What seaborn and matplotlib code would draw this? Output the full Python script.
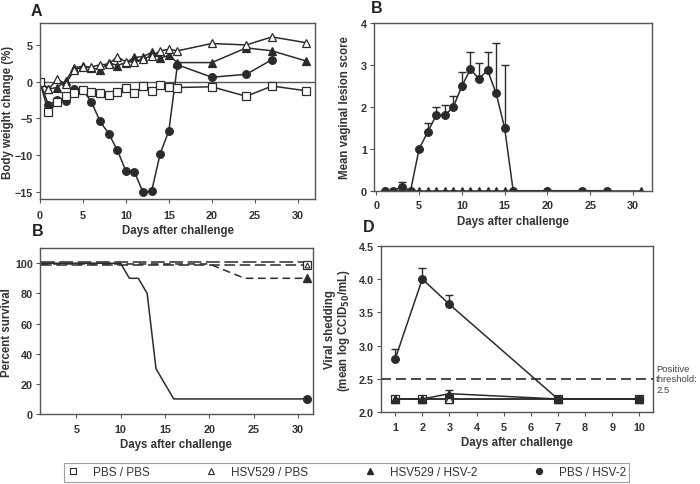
import numpy as np
import pandas as pd
import matplotlib
matplotlib.use('Agg')
import matplotlib.pyplot as plt
from matplotlib.lines import Line2D
import seaborn as sns

groups = ['PBS / PBS', 'HSV529 / PBS', 'HSV529 / HSV-2', 'PBS / HSV-2']

# panel A - body weight change (%)
days_a = [0, 1, 2, 3, 4, 5, 6, 7, 8, 9, 10, 11, 12, 13, 14, 15, 16, 20, 24, 27, 31]
wt_pbs_pbs = [0, -4.2, -2.8, -1.9, -1.5, -1.2, -1.4, -1.5, -1.8, -1.35, -0.8, -1.6,
              -0.6, -1.3, -0.45, -0.7, -0.8, -0.7, -2.0, -0.6, -1.25]
wt_529_pbs = [0, -1.0, 0.3, -0.3, 1.6, 2.0, 2.0, 2.3, 2.4, 3.4, 2.7, 2.7,
              3.1, 3.5, 4.2, 4.4, 4.2, 5.2, 5.0, 6.1, 5.3]
wt_529_hsv = [0, -1.0, -0.8, 0.1, 1.9, 2.1, 1.9, 1.6, 2.6, 2.2, 2.6, 3.3,
              3.4, 4.0, 3.2, 3.6, 2.6, 2.6, 4.6, 4.2, 2.8]
days_a_circ = [0, 1, 2, 3, 4, 5, 6, 7, 8, 9, 10, 11, 12, 13, 14, 15, 16, 20, 24, 27]
wt_pbs_hsv = [0, -3.2, -2.5, -2.7, -1.0, -1.1, -2.8, -5.4, -7.1, -9.3, -12.2, -12.3,
              -15.1, -14.9, -9.8, -6.7, 2.3, 0.6, 1.0, 3.0]

# panel B - lesion score
days_b = [1, 2, 3, 4, 5, 6, 7, 8, 9, 10, 11, 12, 13, 14, 15, 16, 20, 24, 27]
lesion_pbs_hsv = [0, 0, 0.1, 0, 1.0, 1.4, 1.8, 1.8, 2.0, 2.5, 2.9, 2.67, 2.88, 2.33, 1.5, 0, 0, 0, 0]
lesion_err = [0, 0, 0.1, 0, 0, 0.22, 0.2, 0.25, 0.27, 0.34, 0.42, 0.38, 0.44, 1.2, 1.5, 0, 0, 0, 0]
days_b_tri = [1, 2, 3, 4, 5, 6, 7, 8, 9, 10, 11, 12, 13, 14, 15, 16, 31]
lesion_zero = [0] * len(days_b_tri)

# panel C - survival
surv_days_hsv = [1, 10, 11, 12, 13, 14, 16, 31]
surv_pbs_hsv = [100, 100, 90, 90, 80, 30, 10, 10]
surv_days_529hsv = [1, 20, 24, 31]
surv_529_hsv = [99.5, 99.5, 90, 90]
surv_days_ctrl = [1, 31]
surv_pbs_pbs = [100.7, 100.7]
surv_529_pbs = [99, 99]

# panel D - viral shedding
days_d = [1, 2, 3, 7, 10]
vir_pbs_hsv = [2.8, 4.0, 3.62, 2.2, 2.2]
vir_pbs_hsv_err = [0.15, 0.17, 0.14, 0, 0]
vir_529_hsv = [2.2, 2.2, 2.28, 2.2, 2.2]
vir_529_hsv_err = [0, 0, 0.06, 0, 0]
vir_ctrl = [2.2, 2.2, 2.2, 2.2, 2.2]
threshold = 2.5

sns.set_style('ticks')
plt.rcParams['font.family'] = ['Liberation Sans', 'DejaVu Sans']

C = '#2b2b2b'
SP = '#555555'
ms = 5.5
lab_kw = dict(fontsize=8.3, fontweight='bold', color='#333333')

fig = plt.figure(figsize=(7, 4.85), dpi=100)
axA = fig.add_axes([0.057, 0.5876, 0.393, 0.363])
axB = fig.add_axes([0.534, 0.6047, 0.397, 0.3454])
axC = fig.add_axes([0.057, 0.1443, 0.39, 0.342])
axD = fig.add_axes([0.544, 0.1478, 0.3886, 0.3435])


def style(ax, xpad=3):
    for s in ax.spines.values():
        s.set_color(SP)
        s.set_linewidth(1.0)
    ax.tick_params(length=3, width=0.8, color=SP, pad=2)
    ax.tick_params(axis='x', pad=xpad)
    for t in ax.get_xticklabels() + ax.get_yticklabels():
        t.set_fontsize(7.8)
        t.set_fontweight('bold')
        t.set_color('#333333')


def series(ax, x, y, marker, face, **kw):
    sns.lineplot(x=x, y=y, ax=ax, color=C, lw=1.1, marker=marker, markersize=ms,
                 markerfacecolor=face, markeredgecolor=C, markeredgewidth=0.9,
                 legend=False, **kw)


# A
axA.axhline(0, color=SP, lw=1.0)
series(axA, days_a, wt_529_hsv, '^', C)
series(axA, days_a, wt_529_pbs, '^', 'white')
series(axA, days_a_circ, wt_pbs_hsv, 'o', C)
series(axA, days_a, wt_pbs_pbs, 's', 'white')
axA.set_xlim(0, 32)
axA.set_ylim(-16, 8)
axA.set_xticks(range(0, 31, 5))
axA.set_yticks([-15, -10, -5, 0, 5])
axA.set_ylabel('Body weight change (%)', **lab_kw)
axA.yaxis.set_label_coords(-0.095, 0.5)
axA.set_xlabel('Days after challenge', labelpad=3, **lab_kw)
style(axA, xpad=5)

# B
axB.errorbar(days_b, lesion_pbs_hsv, yerr=[np.zeros(len(lesion_err)), lesion_err],
             fmt='none', ecolor=C, elinewidth=1.0, capsize=2.6, capthick=1.0)
series(axB, days_b_tri, lesion_zero, '^', C)
series(axB, days_b, lesion_pbs_hsv, 'o', C)
axB.set_xlim(-0.3, 32.2)
axB.set_ylim(0, 4)
axB.set_xticks(range(0, 31, 5))
axB.set_yticks([0, 1, 2, 3, 4])
axB.set_ylabel('Mean vaginal lesion score', **lab_kw)
axB.yaxis.set_label_coords(-0.083, 0.5)
axB.set_xlabel('Days after challenge', labelpad=3, **lab_kw)
style(axB, xpad=4)

# C
sns.lineplot(x=surv_days_ctrl, y=surv_pbs_pbs, ax=axC, color=C, lw=1.1, dashes=(9, 3), legend=False)
sns.lineplot(x=surv_days_ctrl, y=surv_529_pbs, ax=axC, color=C, lw=1.1, dashes=(7, 3), legend=False)
sns.lineplot(x=surv_days_529hsv, y=surv_529_hsv, ax=axC, color=C, lw=1.1, dashes=(5, 3), legend=False)
sns.lineplot(x=surv_days_hsv, y=surv_pbs_hsv, ax=axC, color=C, lw=1.1, legend=False)
axC.plot([31], [99], 's', ms=ms, mfc='white', mec=C, mew=0.9)
axC.plot([31], [99], '^', ms=3.5, mfc='white', mec=C, mew=0.8)
axC.plot([31], [90], '^', ms=ms, mfc=C, mec=C)
axC.plot([31], [10], 'o', ms=ms, mfc=C, mec=C)
axC.set_xlim(0.9, 31.7)
axC.set_ylim(0, 110)
axC.set_xticks(range(5, 31, 5))
axC.set_yticks(range(0, 101, 20))
axC.set_ylabel('Percent survival', **lab_kw)
axC.yaxis.set_label_coords(-0.099, 0.5)
axC.set_xlabel('Days after challenge', labelpad=3, **lab_kw)
style(axC, xpad=4)

# D
axD.axhline(threshold, color=C, lw=1.2, dashes=(6, 3))
axD.errorbar(days_d, vir_pbs_hsv, yerr=[np.zeros(5), vir_pbs_hsv_err], fmt='none',
             ecolor=C, elinewidth=1.0, capsize=2.6, capthick=1.0)
axD.errorbar(days_d, vir_529_hsv, yerr=[np.zeros(5), vir_529_hsv_err], fmt='none',
             ecolor=C, elinewidth=1.0, capsize=2.6, capthick=1.0)
series(axD, days_d, vir_ctrl, 's', 'white')
series(axD, days_d, vir_ctrl, '^', 'white')
series(axD, days_d, vir_529_hsv, '^', C)
series(axD, days_d, vir_pbs_hsv, 'o', C)
axD.set_xlim(0.47, 10.5)
axD.set_ylim(2.0, 4.5)
axD.set_xticks(range(1, 11))
axD.set_yticks([2.0, 2.5, 3.0, 3.5, 4.0, 4.5])
axD.set_yticklabels(['2.0', '2.5', '3.0', '3.5', '4.0', '4.5'])
axD.set_ylabel('Viral shedding\n(mean log CCID$_{\\mathbf{50}}$/mL)',
               linespacing=1.0, **lab_kw)
axD.yaxis.set_label_coords(-0.105, 0.5)
axD.set_xlabel('Days after challenge', labelpad=3, **lab_kw)
axD.text(1.012, 2.5, 'Positive\nthreshold:\n2.5', transform=axD.get_yaxis_transform(),
         ha='left', va='center', fontsize=6.8, color='#444444', linespacing=1.15)
style(axD, xpad=4)

# panel letters
for x, y, s in [(0.043, 0.977, 'A'), (0.530, 0.983, 'B'), (0.046, 0.522, 'B'), (0.518, 0.530, 'D')]:
    fig.text(x, y, s, fontsize=11.5, fontweight='bold', color='#222222', ha='left', va='center')

# legend
handles = [
    Line2D([], [], ls='none', marker='s', ms=4.2, mfc='white', mec=C, mew=0.8),
    Line2D([], [], ls='none', marker='^', ms=4.2, mfc='white', mec=C, mew=0.8),
    Line2D([], [], ls='none', marker='^', ms=4.2, mfc=C, mec=C),
    Line2D([], [], ls='none', marker='o', ms=4.2, mfc=C, mec=C),
]
leg = fig.legend(handles, groups, loc='center', bbox_to_anchor=(0.495, 0.024),
                 ncol=4, frameon=True, fancybox=False, fontsize=8.5,
                 columnspacing=4.7, handletextpad=1.2, handlelength=1.0,
                 borderpad=0.3, labelcolor='#333333')
leg.get_frame().set_edgecolor('#888888')
leg.get_frame().set_linewidth(0.8)

fig.savefig('out.png', dpi=100)
